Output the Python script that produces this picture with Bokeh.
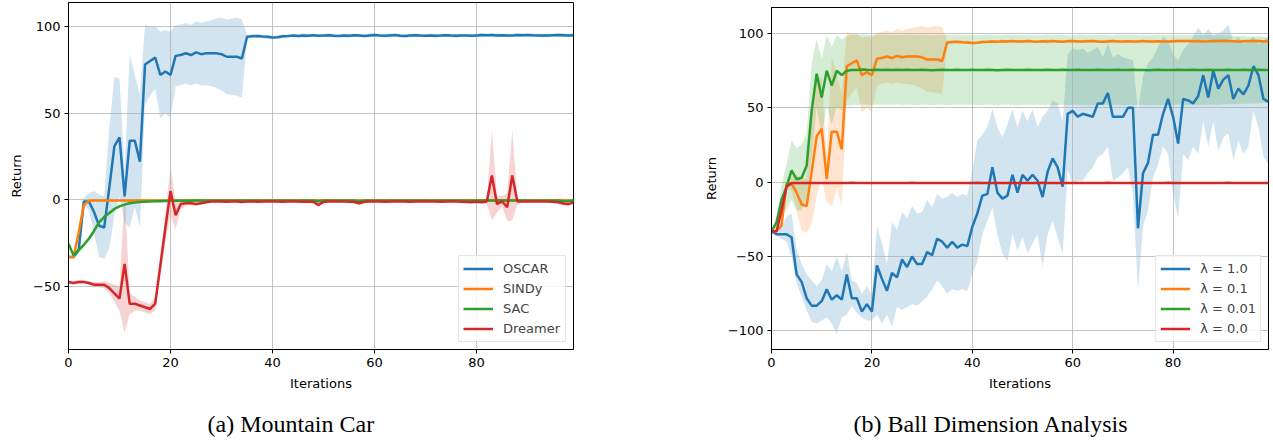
from bokeh.plotting import figure
from bokeh.models import Range1d, Legend, LegendItem, Title
from bokeh.layouts import row, column
from bokeh.embed import file_html
from bokeh.resources import INLINE

# ---------------- data ----------------
iterations = list(range(100))
x_ticks = [0, 20, 40, 60, 80]
y_ticks_a = [-50, 0, 50, 100]
y_ticks_b = [-100, -50, 0, 50, 100]
labels_a = ["OSCAR", "SINDy", "SAC", "Dreamer"]
labels_b = ["λ = 1.0", "λ = 0.1", "λ = 0.01", "λ = 0.0"]
captions = ["(a) Mountain Car", "(b) Ball Dimension Analysis"]

oscar_mean = [-33, -33, -29, -1, -1, -7, -15, -16, 7, 31,
              36, 2, 34, 34, 22, 78, 80, 82, 72, 74,
              72, 83, 83.5, 84.5, 83.5, 85, 84, 84.5, 84.5, 84.5,
              84, 82.5, 82.5, 82.5, 81.5, 94.0, 94.3, 94.5, 94.2, 94.0,
              93.6, 93.8, 94.3, 94.4, 94.7, 94.5, 94.8, 94.6, 94.9, 94.6,
              94.7, 94.9, 94.6, 94.5, 94.8, 94.6, 94.9, 94.7, 94.5, 94.8,
              95.0, 94.7, 94.6, 94.8, 95.0, 94.6, 94.5, 94.7, 94.9, 94.7,
              94.6, 94.8, 94.6, 94.7, 94.9, 94.7, 94.6, 94.8, 94.7, 94.6,
              94.8, 95.0, 94.9, 95.0, 94.8, 94.9, 94.7, 94.8, 95.0, 94.9,
              95.1, 94.9, 94.8, 94.7, 94.8, 94.9, 95.0, 94.9, 94.8, 94.9]
oscar_std = [0.5, 0.5, 2, 2, 5, 12, 18, 18, 35, 40,
             34, 15, 50, 38, 38, 23, 20, 18, 25, 24,
             25, 17.5, 17.5, 17.5, 17.5, 18, 18, 18.5, 19, 20,
             21, 21.5, 22, 22.5, 22.5, 1.2, 1.0, 0.8, 1.0, 1.2,
             1.0, 0.9, 1.1, 0.8, 1.0, 0.9, 1.2, 1.0, 0.8, 1.0,
             0.9, 1.1, 1.0, 0.8, 1.0, 1.2, 0.9, 1.0, 0.8, 1.1,
             1.0, 0.9, 1.0, 1.2, 0.8, 1.0, 0.9, 1.1, 1.0, 0.8,
             1.0, 0.9, 1.1, 1.0, 0.8, 1.0, 1.2, 0.9, 1.0, 0.8,
             1.1, 1.0, 0.9, 1.0, 1.2, 0.8, 1.0, 0.9, 1.1, 1.0,
             0.8, 1.0, 0.9, 1.1, 1.0, 0.8, 1.0, 1.2, 0.9, 1.0]

sindy_mean = [-33, -33, -19, -3, -0.6, -0.5, -0.5, -0.5, -0.5, -0.5,
              -0.5, -0.5, -0.6, -0.5, -0.5, -0.5, -0.4, -0.5, -0.5, -0.5,
              -0.5, -0.5, -0.5, -0.6, -0.5, -0.5, -0.5, -0.5, -0.4, -0.5,
              -0.5, -0.5, -0.5, -0.5, -0.5, -0.6, -0.5, -0.5, -0.5, -0.5,
              -0.5, -0.4, -0.5, -0.5, -0.5, -0.5, -0.5, -0.6, -0.5, -0.5,
              -0.5, -0.5, -0.5, -0.5, -0.4, -0.5, -0.5, -0.5, -0.5, -0.5,
              -0.6, -0.5, -0.5, -0.5, -0.5, -0.5, -0.5, -0.4, -0.5, -0.5,
              -0.5, -0.5, -0.6, -0.5, -0.5, -0.5, -0.5, -0.5, -0.5, -0.4,
              -0.5, -0.5, -0.5, -0.5, -0.6, -0.5, -0.5, -0.5, -0.5, -0.5,
              -0.5, -0.4, -0.5, -0.5, -0.5, -0.6, -0.5, -0.5, -0.5, -0.5]
sindy_std = [0.5, 0.5, 4, 2, 0.5, 0.3, 0.3, 0.3, 0.3, 0.3,
             0.3, 0.3, 0.3, 0.3, 0.3, 0.3, 0.3, 0.3, 0.3, 0.3,
             0.3, 0.3, 0.3, 0.3, 0.3, 0.3, 0.3, 0.3, 0.3, 0.3,
             0.3, 0.3, 0.3, 0.3, 0.3, 0.3, 0.3, 0.3, 0.3, 0.3,
             0.3, 0.3, 0.3, 0.3, 0.3, 0.3, 0.3, 0.3, 0.3, 0.3,
             0.3, 0.3, 0.3, 0.3, 0.3, 0.3, 0.3, 0.3, 0.3, 0.3,
             0.3, 0.3, 0.3, 0.3, 0.3, 0.3, 0.3, 0.3, 0.3, 0.3,
             0.3, 0.3, 0.3, 0.3, 0.3, 0.3, 0.3, 0.3, 0.3, 0.3,
             0.3, 0.3, 0.3, 0.3, 0.3, 0.3, 0.3, 0.3, 0.3, 0.3,
             0.3, 0.3, 0.3, 0.3, 0.3, 0.3, 0.3, 0.3, 0.3, 0.3]

sac_mean = [-25.5, -32, -29, -26, -22.5, -18, -13, -10, -7.7, -5.3,
            -3.8, -2.8, -2.0, -1.6, -1.3, -1.1, -1.0, -0.9, -0.8, -0.7,
            -0.6, -0.6, -0.6, -0.5, -0.6, -0.5, -0.5, -0.6, -0.5, -0.5,
            -0.5, -0.5, -0.6, -0.5, -0.5, -0.5, -0.5, -0.5, -0.6, -0.5,
            -0.5, -0.5, -0.5, -0.5, -0.5, -0.6, -0.5, -0.5, -0.5, -0.8,
            -0.5, -0.5, -0.5, -0.5, -0.5, -0.5, -0.5, -0.9, -0.5, -0.5,
            -0.5, -0.5, -0.6, -0.5, -0.5, -0.5, -0.5, -0.5, -0.5, -0.5,
            -0.5, -0.6, -0.5, -0.5, -0.5, -0.5, -0.5, -0.5, -0.6, -0.5,
            -0.5, -0.5, -0.5, -0.5, -0.5, -0.5, -0.5, -0.5, -0.5, -0.5,
            -0.5, -0.5, -0.6, -0.5, -0.5, -0.5, -0.5, -0.8, -0.7, -0.5]
sac_std = [1, 1.5, 1.5, 1.5, 1.5, 1.5, 1.2, 1, 0.8, 0.6,
           0.5, 0.4, 0.4, 0.3, 0.3, 0.3, 0.3, 0.3, 0.3, 0.3,
           0.3, 0.3, 0.3, 0.3, 0.3, 0.3, 0.3, 0.3, 0.3, 0.3,
           0.3, 0.3, 0.3, 0.3, 0.3, 0.3, 0.3, 0.3, 0.3, 0.3,
           0.3, 0.3, 0.3, 0.3, 0.3, 0.3, 0.3, 0.3, 0.3, 0.6,
           0.3, 0.3, 0.3, 0.3, 0.3, 0.3, 0.3, 0.5, 0.3, 0.3,
           0.3, 0.3, 0.3, 0.3, 0.3, 0.3, 0.3, 0.3, 0.3, 0.3,
           0.3, 0.3, 0.3, 0.3, 0.3, 0.3, 0.3, 0.3, 0.3, 0.3,
           0.3, 0.3, 0.3, 0.3, 0.3, 0.3, 0.3, 0.3, 0.3, 0.3,
           0.3, 0.3, 0.3, 0.3, 0.3, 0.3, 0.3, 0.5, 0.5, 0.3]

dreamer_mean = [-47.5, -48, -47.5, -47.5, -48, -49, -49, -49, -51, -54,
                -57, -37, -60, -60, -61, -62, -63, -60, -38, -16,
                5, -9, -2.5, -2, -2, -2.5, -2, -1.5, -1, -1,
                -1, -1.2, -1, -1, -1.3, -1, -1, -1.1, -1, -1,
                -1, -1, -1.2, -1, -1, -1, -1.1, -1, -1.3, -3,
                -1.2, -1, -1, -1, -1, -1.1, -1.3, -2, -1.2, -1,
                -1, -1, -1.1, -1, -1, -1, -1, -1.1, -1, -1,
                -1, -1, -1, -1.1, -1, -1, -1, -1.1, -1.3, -1.5,
                -1.2, -1.5, -1, 14, -2.5, -1, -4.3, 14, -1, -1,
                -1, -1, -1, -1, -1, -1.2, -1.5, -2.2, -2.5, -1.5]
dreamer_std = [1, 1, 1, 1, 1, 1.5, 1.5, 2, 3, 5,
               7, 40, 6, 4, 3, 3, 3, 4, 6, 8,
               14, 8, 3, 1.5, 1, 0.8, 0.6, 0.5, 0.5, 0.5,
               0.5, 0.5, 0.5, 0.5, 0.5, 0.5, 0.5, 0.5, 0.5, 0.5,
               0.5, 0.5, 0.5, 0.5, 0.5, 0.5, 0.5, 0.5, 0.5, 1.5,
               0.5, 0.5, 0.5, 0.5, 0.5, 0.5, 0.5, 1.0, 0.5, 0.5,
               0.5, 0.5, 0.5, 0.5, 0.5, 0.5, 0.5, 0.5, 0.5, 0.5,
               0.5, 0.5, 0.5, 0.5, 0.5, 0.5, 0.5, 0.5, 0.5, 0.5,
               0.5, 0.8, 1, 26, 5, 3, 8, 26, 2, 0.5,
               0.5, 0.5, 0.5, 0.5, 0.5, 0.5, 0.8, 1.0, 1.2, 0.5]

lam1_mean = [-33, -35, -35, -35, -37, -62, -67, -78, -83, -83,
             -80, -72, -79, -76, -79, -62, -78, -78, -87, -82,
             -87, -56, -65, -73, -61, -64, -52, -57, -50, -55,
             -55, -47, -49, -38, -40, -44, -40, -44, -42, -43,
             -30, -21, -9, -8, 10, -7, -11, -9, 5, -7,
             5, 1, 5, 1, -10, 7, 16, 10, -3, 46,
             48, 44, 46, 45, 44, 53, 53, 60, 44, 44,
             44, 50, 50, -31, 6, 13, 32, 32, 46, 56,
             44, 26, 56, 55, 53, 58, 72, 57, 75, 63,
             69, 72, 56, 63, 59, 65, 78, 72, 56, 54]
lam1_upper = [-32, -32, -30, -23, -21, -45, -55, -62, -66, -70,
              -66, -55, -60, -50, -60, -47, -66, -68, -75, -70,
              -76, -30, -41, -55, -27, -32, -20, -24, -16, -21,
              -20, -12, -17, -8, -11, -10, -7, -10, -8, -9,
              8, 28, 32, 37, 49, 37, 30, 39, 49, 37,
              48, 41, 49, 37, 44, 48, 55, 53, 41, 86,
              90, 89, 90, 87, 89, 91, 84, 93, 84, 86,
              84, 83, 82, 48, 71, 80, 84, 91, 98, 95,
              86, 82, 89, 93, 98, 104, 99, 103, 99, 100,
              102, 106, 95, 98, 93, 95, 98, 93, 95, 98]
lam1_lower = [-34, -36, -38, -40, -50, -68, -77, -86, -94, -95,
              -93, -91, -95, -102, -91, -89, -83, -88, -91, -93,
              -93, -89, -95, -89, -97, -84, -86, -84, -82, -83,
              -80, -77, -72, -66, -70, -75, -72, -73, -72, -73,
              -62, -53, -35, -26, -17, -35, -48, -53, -35, -46,
              -37, -48, -41, -35, -57, -35, -26, -37, -48, 8,
              -1, 1, 1, 6, 10, 17, 19, 24, 1, 3,
              6, 10, -8, -73, -30, -19, 3, 12, 24, 19,
              -8, -24, 19, 15, 24, 19, 41, 24, 41, 21,
              30, 33, 15, 28, 19, 24, 48, 37, 17, 12]

lam01_mean = oscar_mean
lam01_std = oscar_std

lam001_mean = [-33, -27, -12, -3, 8, 2, 3, 11, 48, 73,
               57, 75, 65, 75, 72, 75, 75.5, 75.5, 75.8, 75.6,
               75.5, 75.7, 75.5, 75.6, 75.4, 75.6, 75.5, 75.7, 75.5, 75.4,
               75.6, 75.5, 75.3, 75.5, 75.6, 75.5, 75.4, 75.6, 75.5, 75.5,
               75.6, 75.4, 75.5, 75.6, 75.5, 75.3, 75.5, 75.6, 75.5, 75.4,
               75.5, 75.6, 75.5, 75.5, 75.4, 75.6, 75.5, 75.5, 75.6, 75.4,
               75.5, 75.6, 75.5, 75.4, 75.5, 75.6, 75.5, 75.5, 75.4, 75.6,
               75.5, 75.5, 75.6, 75.4, 75.5, 75.3, 75.5, 75.6, 75.5, 75.5,
               75.4, 75.6, 75.5, 75.5, 75.6, 75.4, 75.5, 75.6, 75.5, 75.5,
               75.4, 75.6, 75.5, 75.5, 75.6, 75.4, 75.5, 75.6, 75.5, 75.5]
lam001_std = [0.5, 3, 10, 15, 20, 21, 22, 22, 32, 23,
              26, 24, 26, 24, 24, 23.5, 23.5, 23.5, 23.5, 23.5,
              23.5, 23.5, 23.6, 23.5, 23.5, 23.4, 23.5, 23.5, 23.6, 23.5,
              23.5, 23.5, 23.4, 23.5, 23.5, 23.6, 23.5, 23.5, 23.5, 23.4,
              23.5, 23.5, 23.6, 23.5, 23.5, 23.5, 23.4, 23.5, 23.5, 23.6,
              23.5, 23.5, 23.5, 23.4, 23.5, 23.5, 23.6, 23.5, 23.5, 23.5,
              23.4, 23.5, 23.5, 23.6, 23.5, 23.5, 23.5, 23.4, 23.5, 23.5,
              23.6, 23.5, 23.5, 23.5, 23.4, 23.5, 23.5, 23.6, 23.5, 23.5,
              23.5, 23.4, 23.5, 23.5, 23.6, 23.5, 23.5, 23.5, 23.4, 23.5,
              23.2, 23.0, 23.0, 22.8, 22.8, 22.6, 22.5, 22.5, 22.3, 22.0]

lam0_mean = sindy_mean
lam0_std = sindy_std

# ---------------- styling ----------------
BLUE, ORANGE, GREEN, RED = "#1f77b4", "#ff7f0e", "#2ca02c", "#d62728"
FONT = "DejaVu Sans"


def lo(m, s):
    return [a - b for a, b in zip(m, s)]


def hi(m, s):
    return [a + b for a, b in zip(m, s)]


def make_fig(frame_w, frame_h, left, right, top, y_lo, y_hi, yticks):
    p = figure(frame_width=frame_w, frame_height=frame_h,
               min_border_left=left, min_border_right=right,
               min_border_top=top, min_border_bottom=93,
               x_range=Range1d(0, 99), y_range=Range1d(y_lo, y_hi),
               output_backend="svg", toolbar_location=None, title=None)
    p.xaxis.ticker = x_ticks
    p.yaxis.ticker = yticks
    p.yaxis.major_label_overrides = {t: ("−" + str(-t)) for t in yticks if t < 0}
    for ax in (p.xaxis[0], p.yaxis[0]):
        ax.axis_line_color = "black"
        ax.axis_line_width = 1
        ax.major_tick_line_color = "black"
        ax.major_tick_in = 0
        ax.major_tick_out = 4
        ax.minor_tick_line_color = None
        ax.major_label_text_font = FONT
        ax.major_label_text_font_size = "13px"
        ax.major_label_text_color = "black"
        ax.major_label_standoff = 4
        ax.axis_label_text_font = FONT
        ax.axis_label_text_font_size = "13px"
        ax.axis_label_text_font_style = "normal"
        ax.axis_label_text_color = "black"
        ax.axis_label_standoff = 6
    p.xaxis.axis_label = "Iterations"
    p.yaxis.axis_label = "Return"
    p.grid.grid_line_color = "#b0b0b0"
    p.grid.grid_line_width = 1
    p.grid.grid_line_alpha = 0.75
    p.outline_line_color = "black"
    p.outline_line_alpha = 1
    p.outline_line_width = 1
    p.background_fill_color = "white"
    p.border_fill_color = "white"
    return p


def add_series(p, lower, upper, mean, color):
    p.varea(x=iterations, y1=lower, y2=upper, fill_color=color,
            fill_alpha=0.2, level="image")
    return p.line(x=iterations, y=mean, line_color=color, line_width=2.5)


def add_legend(p, items, label_width):
    leg = Legend(items=items, location="bottom_right", margin=7, padding=4,
                 spacing=3, glyph_height=17, glyph_width=30, label_height=17,
                 label_width=label_width, label_standoff=10,
                 label_text_font=FONT, label_text_font_size="13px",
                 border_line_color="#cccccc", border_line_width=1,
                 background_fill_alpha=0.85)
    p.add_layout(leg)


def add_caption(p, text, offset):
    p.add_layout(Title(text=text, align="left", offset=offset,
                       text_font="Liberation Serif", text_font_size="24px",
                       text_font_style="normal", text_color="black",
                       standoff=30), "below")


# ---------------- panel (a) ----------------
pa = make_fig(505, 347, 68, 127, 2, -86.4, 113.8, y_ticks_a)
colors = [BLUE, ORANGE, GREEN, RED]
series_a = [(oscar_mean, oscar_std), (sindy_mean, sindy_std),
            (sac_mean, sac_std), (dreamer_mean, dreamer_std)]
items_a = []
for (m, s), c, lab in zip(series_a, colors, labels_a):
    r = add_series(pa, lo(m, s), hi(m, s), m, c)
    items_a.append(LegendItem(label=lab, renderers=[r]))
add_legend(pa, items_a, 58)
add_caption(pa, captions[0], 139)

# ---------------- panel (b) ----------------
pb = make_fig(497, 342, 69, 7, 7, -112.5, 117.5, y_ticks_b)
items_b = []
r = add_series(pb, lam1_lower, lam1_upper, lam1_mean, BLUE)
items_b.append(LegendItem(label=labels_b[0], renderers=[r]))
for (m, s), c, lab in zip([(lam01_mean, lam01_std), (lam001_mean, lam001_std),
                           (lam0_mean, lam0_std)], [ORANGE, GREEN, RED], labels_b[1:]):
    r = add_series(pb, lo(m, s), hi(m, s), m, c)
    items_b.append(LegendItem(label=lab, renderers=[r]))
add_legend(pb, items_b, 52)
add_caption(pb, captions[1], 82)

layout = row(column(pa), column(pb))
open("out.html", "w").write(file_html(layout, INLINE))
